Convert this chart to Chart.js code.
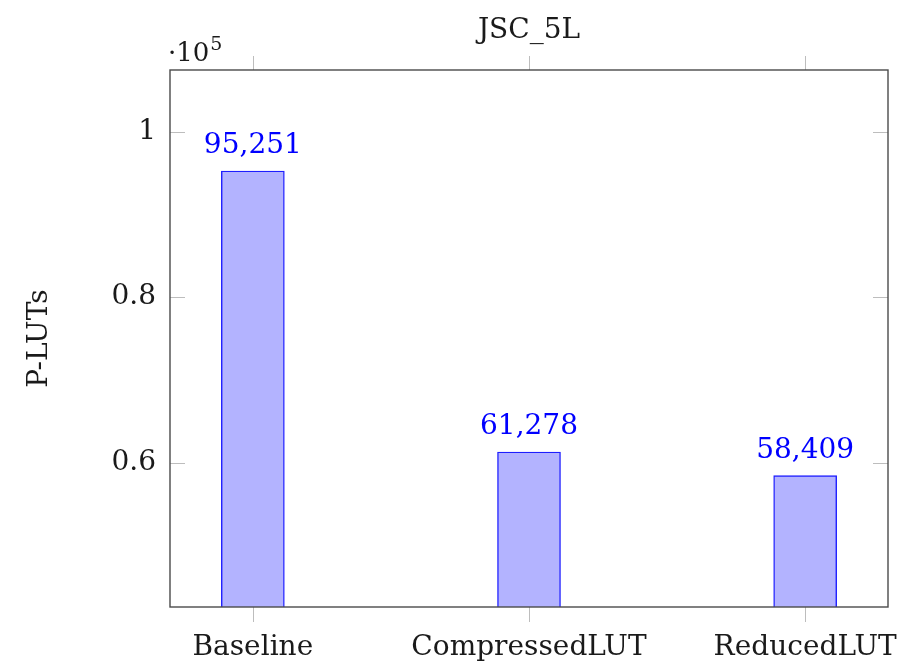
<!DOCTYPE html>
<html>
<head>
<meta charset="utf-8">
<script src="https://cdn.jsdelivr.net/npm/chart.js@4/dist/chart.umd.min.js"></script>
<style>
  html, body { margin: 0; padding: 0; background: #ffffff; }
  #wrap { width: 915px; height: 663px; }
</style>
</head>
<body>
<div id="wrap"><canvas id="c" width="915" height="663"></canvas></div>
<script>
// P-LUT counts per design variant (JSC_5L)
const categories = ['Baseline', 'CompressedLUT', 'ReducedLUT'];
const plutValues = [95251, 61278, 58409];
const yTickValues = [60000, 80000, 100000];
const yTickLabels = ['0.6', '0.8', '1'];

const SERIF = '"DejaVu Serif", "Liberation Serif", serif';
const INK = '#1a1a1a';

// pgfplots-style frame, ticks, title, exponent marker and value labels
const decorations = {
  id: 'decorations',
  afterDatasetsDraw(chart) {
    const { ctx, chartArea: a, scales: { x, y } } = chart;
    ctx.save();

    // light gray tick marks
    ctx.strokeStyle = '#bdbdbd';
    ctx.lineWidth = 1;
    ctx.beginPath();
    yTickValues.forEach(v => {
      const py = Math.round(y.getPixelForValue(v)) + 0.5;
      ctx.moveTo(a.left, py); ctx.lineTo(a.left + 15, py);
      ctx.moveTo(a.right, py); ctx.lineTo(a.right - 15, py);
    });
    categories.forEach((_, i) => {
      const px = Math.round(x.getPixelForValue(i)) + 0.5;
      ctx.moveTo(px, a.bottom); ctx.lineTo(px, a.bottom + 15);
      ctx.moveTo(px, a.top); ctx.lineTo(px, a.top - 14);
    });
    ctx.stroke();

    // axis frame
    ctx.strokeStyle = '#4a4a4a';
    ctx.lineWidth = 1.4;
    ctx.strokeRect(a.left, a.top, a.right - a.left, a.bottom - a.top);

    // title
    ctx.fillStyle = INK;
    ctx.font = '28px ' + SERIF;
    ctx.textAlign = 'center';
    ctx.textBaseline = 'alphabetic';
    ctx.fillText('JSC_5L', (a.left + a.right) / 2, 38);

    // scale exponent marker
    ctx.textAlign = 'left';
    ctx.font = '26px ' + SERIF;
    const base = '\u00B710';
    ctx.fillText(base, a.left - 2, 61);
    const w = ctx.measureText(base).width;
    ctx.font = '19px ' + SERIF;
    ctx.fillText('5', a.left - 2 + w + 1, 50);

    // value labels above bars
    ctx.fillStyle = '#0000ff';
    ctx.font = '28px ' + SERIF;
    ctx.textAlign = 'center';
    const meta = chart.getDatasetMeta(0);
    meta.data.forEach((bar, i) => {
      ctx.fillText(plutValues[i].toLocaleString('en-US'), bar.x, bar.y - 18);
    });

    ctx.restore();
  }
};

new Chart(document.getElementById('c'), {
  type: 'bar',
  data: {
    datasets: [{
      data: plutValues.map((v, i) => ({ x: i, y: v })),
      backgroundColor: 'rgb(179,179,255)',
      borderColor: 'rgb(30,30,255)',
      borderWidth: 1.4,
      barThickness: 63
    }]
  },
  options: {
    responsive: false,
    devicePixelRatio: 1,
    animation: false,
    layout: { padding: { top: 70, right: 27, left: 0, bottom: 0 } },
    plugins: {
      legend: { display: false },
      tooltip: { enabled: false },
      title: { display: false }
    },
    scales: {
      x: {
        type: 'linear',
        min: -0.3,
        max: 2.3,
        offset: false,
        bounds: 'data',
        grid: { display: false, drawTicks: false, offset: false },
        border: { display: false },
        afterBuildTicks(scale) {
          scale.ticks = categories.map((_, i) => ({ value: i }));
        },
        afterFit(scale) {
          scale.height = 56;
          scale.paddingLeft = 0;
          scale.paddingRight = 0;
        },
        ticks: {
          autoSkip: false,
          maxRotation: 0,
          padding: 24,
          color: INK,
          font: { family: SERIF, size: 28 },
          callback: (v) => categories[v]
        }
      },
      y: {
        min: 42530,
        max: 107470,
        grid: { display: false, drawTicks: false },
        border: { display: false },
        afterBuildTicks(scale) {
          scale.ticks = yTickValues.map(v => ({ value: v }));
        },
        afterFit(scale) { scale.width = 170; },
        ticks: {
          padding: 14,
          color: INK,
          font: { family: SERIF, size: 28 },
          callback: (v) => yTickLabels[yTickValues.indexOf(v)]
        },
        title: {
          display: true,
          text: 'P-LUTs',
          color: INK,
          font: { family: SERIF, size: 28 },
          padding: { top: 23, bottom: 0 }
        }
      }
    }
  },
  plugins: [decorations]
});
</script>
</body>
</html>
